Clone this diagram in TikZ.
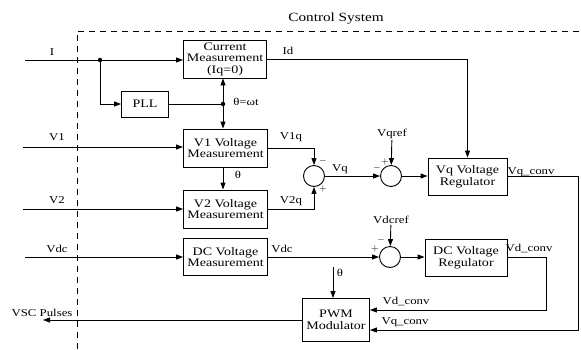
\documentclass[tikz,border=0pt]{standalone}
\usepackage{fontspec}
\newfontfamily\diagfont[FakeStretch=1.22]{Liberation Serif}
\usetikzlibrary{arrows.meta,positioning}
\tikzset{
  block/.style={draw, line width=0.9pt, align=center, inner sep=1pt, font=\diagfont\fontsize{11.5}{11.5}\selectfont},
  sumnode/.style={circle, draw, line width=0.9pt, minimum size=21pt, inner sep=0pt},
  sig/.style={inner sep=1pt, font=\diagfont\fontsize{10.5}{11}\selectfont},
  sgn/.style={inner sep=0pt, font=\diagfont\bfseries\fontsize{10}{10}\selectfont},
  dot/.style={circle, fill, minimum size=4.5pt, inner sep=0pt},
  wire/.style={line width=0.9pt},
  arrow/.style={-{Triangle[length=7pt,width=5pt]}, line width=0.9pt},
  border/.style={dash pattern=on 6pt off 5pt, line width=0.8pt}
}

\begin{document}
\begin{tikzpicture}[x=1pt,y=-1pt]
  \useasboundingbox (0,0) rectangle (581,349);
  % control system boundary
  \draw[border] (77,349) -- (77,31) -- (581,31);
  \node[font=\diagfont\fontsize{12.5}{12.5}\selectfont] (title) at (336,19) {Control System};

  % blocks
  \node[block, minimum width=83pt, minimum height=38pt] (curr) at (225,59) {Current\\Measurement\\(Iq=0)};
  \node[block, minimum width=47pt, minimum height=26pt] (pll) at (145,104) {PLL};
  \node[block, minimum width=84pt, minimum height=38pt] (v1meas) at (225.5,148) {V1 Voltage\\Measurement};
  \node[block, minimum width=84pt, minimum height=38pt] (v2meas) at (225.5,209) {V2 Voltage\\Measurement};
  \node[block, minimum width=84pt, minimum height=37pt] (dcmeas) at (225.5,257) {DC Voltage\\Measurement};
  \node[sumnode] (sum1) at (314,176) {};
  \node[sumnode] (sum2) at (391,176) {};
  \node[sumnode] (sum3) at (390,257) {};
  \node[block, minimum width=79pt, minimum height=37pt] (vqreg) at (467.5,176.5) {Vq Voltage\\Regulator};
  \node[block, minimum width=82pt, minimum height=37pt] (dcreg) at (466,257.5) {DC Voltage\\Regulator};
  \node[block, minimum width=67pt, minimum height=43pt] (pwm) at (336,320) {PWM\\Modulator};

  % inputs, junctions and corners
  \coordinate (inI) at (25,60);
  \coordinate (inV1) at (23,147);
  \coordinate (inV2) at (23,209);
  \coordinate (inVdc) at (25,257);
  \coordinate (pulses) at (43,320);
  \coordinate (thpwm) at (333,267);
  \coordinate (qcorner) at (578,330);
  \coordinate (dcorner) at (546,310);
  \node[dot] (jI) at (100,60) {};
  \node[dot] (jth) at (223,104) {};
  \node[sig] (vqref) at (392,134) {Vqref};
  \node[sig] (vdcref) at (391,220) {Vdcref};

  % connections
  \draw[wire] (inI) -- (jI);
  \draw[arrow] (jI) -- (jI -| curr.west);
  \draw[arrow] (jI) |- (pll);
  \draw[wire] (pll) -- (jth);
  \draw[arrow] (jth) -- (jth |- curr.south);
  \draw[arrow] (jth) -- (jth |- v1meas.north);
  \draw[arrow] (v1meas.south -| jth) -- (v2meas.north -| jth);
  \draw[arrow] (inV1) -- (inV1 -| v1meas.west);
  \draw[arrow] (inV2) -- (inV2 -| v2meas.west);
  \draw[arrow] (inVdc) -- (inVdc -| dcmeas.west);
  \draw[arrow] (v1meas.east) -| (sum1.north);
  \draw[arrow] (v2meas.east) -| (sum1.south);
  \draw[arrow] (sum1) -- (sum2);
  \draw[arrow] (vqref) -- (sum2);
  \draw[arrow] (sum2) -- (sum2 -| vqreg.west);
  \draw[arrow] (curr.east) -| (vqreg.north);
  \draw[arrow] (dcmeas) -- (sum3);
  \draw[arrow] (vdcref) -- (sum3);
  \draw[arrow] (sum3) -- (sum3 -| dcreg.west);
  \draw[arrow] (vqreg.east) -| (qcorner) -- (qcorner -| pwm.east);
  \draw[arrow] (dcreg.east) -| (dcorner) -- (dcorner -| pwm.east);
  \draw[arrow] (thpwm) -- (thpwm |- pwm.north);
  \draw[arrow] (pwm.west) -- (pulses);

  % signal labels
  \node[sig] (lI) at (52,52) {I};
  \node[sig] (lV1) at (57,137) {V1};
  \node[sig] (lV2) at (57,200) {V2};
  \node[sig] (lVdc) at (57,249) {Vdc};
  \node[sig] (lpulses) at (42,313) {VSC Pulses};
  \node[sig] (lId) at (288,51) {Id};
  \node[sig] (lthwt) at (246,102) {θ=ωt};
  \node[sig] (lth1) at (238,175) {θ};
  \node[sig] (lV1q) at (291,137) {V1q};
  \node[sig] (lV2q) at (291,201) {V2q};
  \node[sig] (lVq) at (340,169) {Vq};
  \node[sig] (lVdc2) at (282,249) {Vdc};
  \node[sig] (lVqconv) at (531,172) {Vq\_conv};
  \node[sig] (lVdconv) at (529,249) {Vd\_conv};
  \node[sig] (lVdconv2) at (406,302) {Vd\_conv};
  \node[sig] (lVqconv2) at (405,322) {Vq\_conv};
  \node[sig] (lth2) at (340,273) {θ};

  % signs at the summing points
  \node[sgn] at (323,161) {$-$};
  \node[sgn] at (323,189) {$+$};
  \node[sgn] at (385,162) {$+$};
  \node[sgn] at (377,168) {$-$};
  \node[sgn] at (381,240) {$-$};
  \node[sgn] at (375,249) {$+$};
\end{tikzpicture}
\end{document}
